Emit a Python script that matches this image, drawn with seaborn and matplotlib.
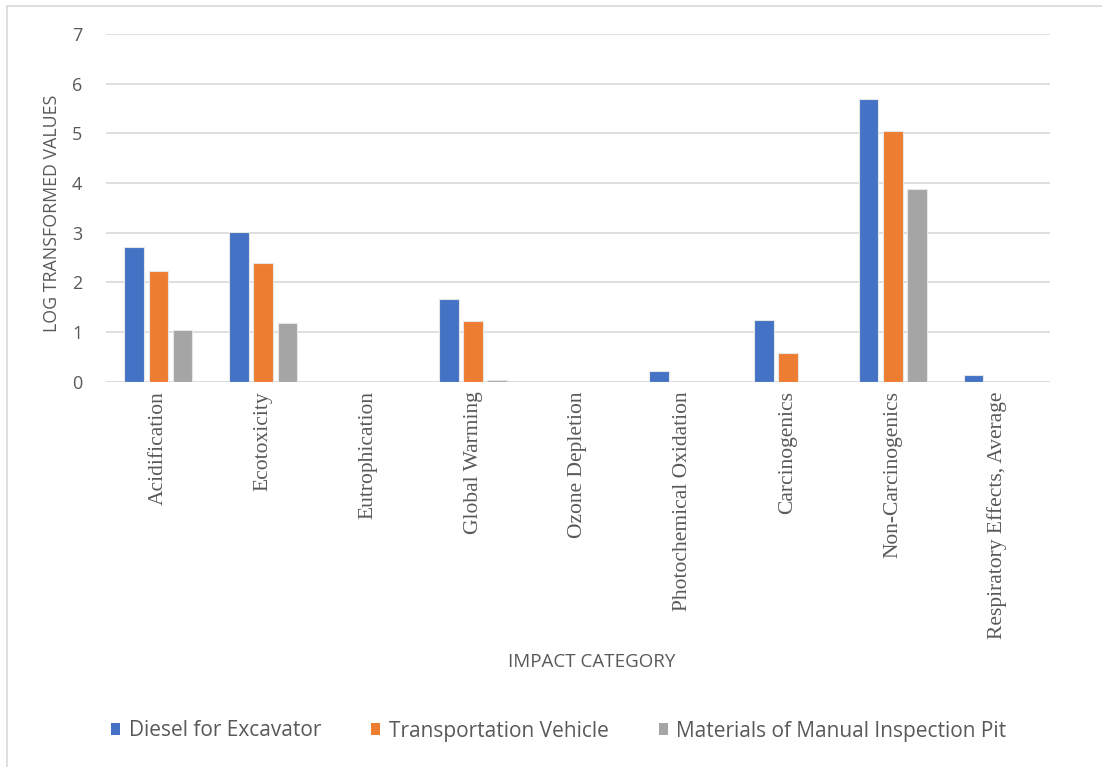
import matplotlib
matplotlib.use("Agg")
import matplotlib.pyplot as plt
from matplotlib.lines import Line2D
import pandas as pd
import seaborn as sns

categories = [
    "Acidification", "Ecotoxicity", "Eutrophication", "Global Warming",
    "Ozone Depletion", "Photochemical Oxidation", "Carcinogenics",
    "Non-Carcinogenics", "Respiratory Effects, Average",
]
diesel = [2.71, 3.02, 0.0, 1.66, 0.0, 0.22, 1.24, 5.69, 0.13]
transport = [2.23, 2.38, 0.0, 1.22, 0.0, 0.0, 0.58, 5.04, 0.0]
materials = [1.04, 1.18, 0.0, 0.03, 0.0, 0.0, 0.0, 3.88, 0.0]
series_names = ["Diesel for Excavator", "Transportation Vehicle",
                "Materials of Manual Inspection Pit"]
colors = ["#4472C4", "#ED7D31", "#A5A5A5"]
y_ticks = [0, 1, 2, 3, 4, 5, 6, 7]

rows = []
for name, vals in zip(series_names, [diesel, transport, materials]):
    for cat, v in zip(categories, vals):
        rows.append({"category": cat, "series": name, "value": v})
df = pd.DataFrame(rows)

sns.set_style("white")
plt.rcParams["font.family"] = ["Open Sans", "DejaVu Sans"]
text_color = "#595959"

fig = plt.figure(figsize=(11.02, 7.67), dpi=100)
ax = fig.add_axes([0.0962, 0.5023, 0.8566, 0.4534])

sns.barplot(data=df, x="category", y="value", hue="series",
            order=categories, hue_order=series_names, palette=colors,
            width=0.69, saturation=1, gap=0.18, ax=ax, legend=False,
            edgecolor="#e6e6e6", linewidth=0.8)
for p in ax.patches:
    if p.get_height() <= 0:
        p.set_linewidth(0)

ax.set_ylim(0, 7)
ax.set_xlim(-0.5, len(categories) - 0.5)
ax.set_yticks(y_ticks)
ax.set_yticklabels([str(t) for t in y_ticks], fontsize=13, color=text_color)
ax.yaxis.grid(True, color="#D9D9D9", linewidth=1.2)
ax.set_axisbelow(True)
for s in ax.spines.values():
    s.set_visible(False)
ax.axhline(0, color="#D9D9D9", linewidth=1.2, zorder=0.5)
ax.tick_params(axis="y", length=0, pad=17)
ax.tick_params(axis="x", length=0, pad=7)

ax.set_xticks(range(len(categories)))
ax.set_xticklabels(categories, rotation=90, ha="center", va="top",
                   fontsize=15.5, color=text_color, family="Liberation Serif")

ax.set_ylabel("LOG TRANSFORMED VALUES", fontsize=12.8, color=text_color)
ax.yaxis.set_label_coords(-45 / 944, (381.7 - 213) / 347.7)
ax.set_xlabel("")
fig.text(592 / 1102, 1 - 662 / 767, "IMPACT CATEGORY", fontsize=13.5,
         color=text_color, ha="center", va="center")

handles = [plt.Rectangle((0, 0), 1, 1, facecolor=c, edgecolor="none")
           for c in colors]
fig.legend(handles, series_names, loc="center", ncol=3,
           bbox_to_anchor=(0.507, 1 - 731 / 767), frameon=False,
           fontsize=15, labelcolor=text_color, handlelength=0.45,
           handleheight=0.45, handletextpad=0.4, columnspacing=2.4)

# light chart-area border
fig.add_artist(Line2D([7 / 1102, 7 / 1102], [0, 1 - 6 / 767],
                      transform=fig.transFigure, color="#D9D9D9", lw=1.2))
fig.add_artist(Line2D([7 / 1102, 1], [1 - 6 / 767, 1 - 6 / 767],
                      transform=fig.transFigure, color="#D9D9D9", lw=1.2))

fig.savefig("out.png", dpi=100, facecolor="white")
